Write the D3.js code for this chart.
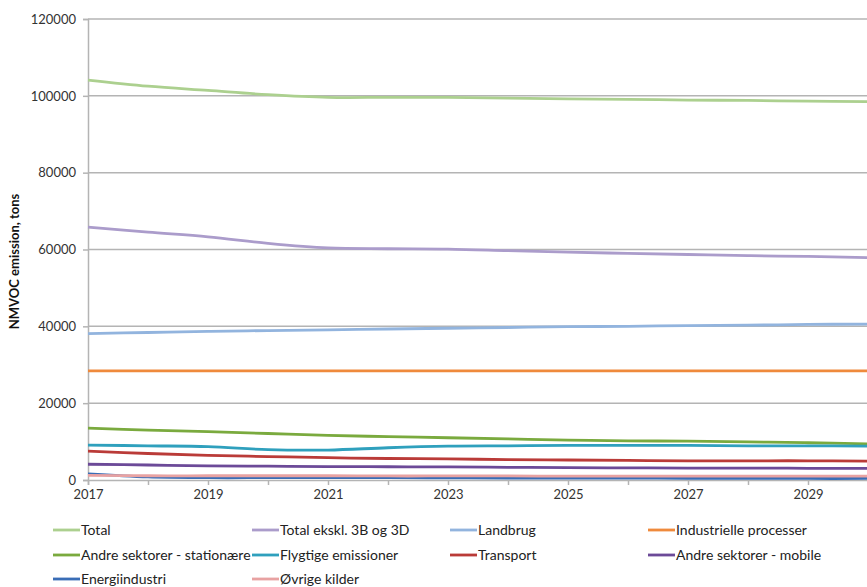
<!DOCTYPE html>
<html>
<head>
<meta charset="utf-8">
<script src="https://cdn.jsdelivr.net/npm/d3@7"></script>
<style>
  html, body { margin: 0; padding: 0; background: #fff; }
  svg { display: block; }
  text { font-family: Lato, "Open Sans", sans-serif; }
</style>
</head>
<body>
<svg id="chart" width="867" height="587"></svg>
<script>
// Projected NMVOC emissions by source, tons
const years = [2017, 2018, 2019, 2020, 2021, 2022, 2023, 2024, 2025, 2026, 2027, 2028, 2029, 2030];
const yTicks = [0, 20000, 40000, 60000, 80000, 100000, 120000];
const xTickLabels = [2017, 2019, 2021, 2023, 2025, 2027, 2029];

const total          = [104100, 102500, 101400, 100300, 99600, 99600, 99600, 99400, 99200, 99100, 98900, 98800, 98600, 98500];
const totalEkskl     = [65800, 64500, 63300, 61600, 60400, 60200, 60100, 59700, 59300, 59000, 58700, 58400, 58200, 57900];
const landbrug       = [38100, 38400, 38700, 38900, 39100, 39300, 39500, 39700, 39900, 40000, 40200, 40300, 40500, 40600];
const industrielle   = [28400, 28400, 28400, 28400, 28400, 28400, 28400, 28400, 28400, 28400, 28400, 28400, 28400, 28400];
const andreStation   = [13500, 13000, 12600, 12100, 11600, 11300, 11000, 10700, 10400, 10200, 10100, 9900, 9700, 9400];
const flygtige       = [9100, 8900, 8700, 7900, 7800, 8400, 8800, 8900, 9000, 9000, 9000, 8900, 8900, 8800];
const transport      = [7500, 6900, 6400, 6100, 5800, 5600, 5500, 5300, 5200, 5100, 5000, 5000, 5000, 4900];
const andreMobile    = [4100, 3900, 3700, 3600, 3500, 3450, 3400, 3300, 3200, 3150, 3100, 3100, 3050, 3000];
const energi         = [1600, 800, 600, 600, 600, 600, 550, 500, 500, 500, 450, 450, 400, 400];
const oevrige        = [1200, 1100, 1100, 1100, 1100, 1050, 1050, 1050, 1000, 1000, 1000, 1000, 1000, 1000];

const seriesNames = ["Total", "Total ekskl. 3B og 3D", "Landbrug", "Industrielle processer",
  "Andre sektorer - stationære", "Flygtige emissioner", "Transport", "Andre sektorer - mobile",
  "Energiindustri", "Øvrige kilder"];
const seriesValues = [total, totalEkskl, landbrug, industrielle, andreStation, flygtige,
  transport, andreMobile, energi, oevrige];
const seriesColors = ["#acd08f", "#ab9ccb", "#92b4de", "#ef8a3c", "#7aaa3e", "#2fa0bd",
  "#ba3b38", "#6c4a98", "#3a6db6", "#e8a2a2"];

const svg = d3.select("#chart");
const plotLeft = 88, plotRight = 868, plotTop = 19, plotBottom = 480;

const x = d3.scaleLinear().domain([2017, 2030]).range([plotLeft, plotRight]);
const y = d3.scaleLinear().domain([0, 120000]).range([plotBottom, plotTop]);

// horizontal gridlines
svg.append("g")
  .selectAll("line")
  .data(yTicks.filter(d => d > 0))
  .join("line")
  .attr("x1", plotLeft).attr("x2", plotRight)
  .attr("y1", d => y(d)).attr("y2", d => y(d))
  .attr("stroke", "#b4b4b4").attr("stroke-width", 1.5);

// y axis
const yAxis = svg.append("g")
  .attr("transform", `translate(${plotLeft},0)`)
  .call(d3.axisLeft(y).tickValues(yTicks).tickSize(5).tickPadding(7).tickFormat(d3.format("d")));
yAxis.select(".domain").attr("stroke", "#b4b4b4").attr("stroke-width", 1.5);
yAxis.selectAll(".tick line").attr("stroke", "#b4b4b4").attr("stroke-width", 1.5);
yAxis.selectAll(".tick text").attr("font-size", 13).attr("fill", "#333")
  .style("font-family", "Lato, sans-serif");

// x axis
const xAxis = svg.append("g")
  .attr("transform", `translate(0,${plotBottom})`)
  .call(d3.axisBottom(x).tickValues(years).tickSize(5).tickPadding(5)
    .tickFormat(d => xTickLabels.includes(d) ? d : ""));
xAxis.select(".domain").attr("stroke", "#b4b4b4").attr("stroke-width", 1.5);
xAxis.selectAll(".tick line").attr("stroke", "#b4b4b4").attr("stroke-width", 1.5);
xAxis.selectAll(".tick text").attr("font-size", 13).attr("fill", "#333")
  .style("font-family", "Lato, sans-serif");

// y axis title
svg.append("text")
  .attr("transform", `translate(19,${(plotTop + plotBottom) / 2 + 12}) rotate(-90)`)
  .attr("text-anchor", "middle")
  .attr("font-size", 13)
  .attr("font-weight", "bold")
  .attr("fill", "#111")
  .text("NMVOC emission, tons");

// series lines
const line = d3.line()
  .x((d, i) => x(years[i]))
  .y(d => y(d))
  .curve(d3.curveCatmullRom.alpha(0.5));

svg.append("g")
  .selectAll("path")
  .data(seriesValues)
  .join("path")
  .attr("d", d => line(d))
  .attr("fill", "none")
  .attr("stroke", (d, i) => seriesColors[i])
  .attr("stroke-width", 2.8)
  .attr("stroke-linejoin", "round");

// legend
const legendCols = [53, 252, 450, 648];
const legendRows = [530, 555, 579];
const legend = svg.append("g")
  .selectAll("g")
  .data(seriesNames)
  .join("g")
  .attr("transform", (d, i) => `translate(${legendCols[i % 4]},${legendRows[Math.floor(i / 4)]})`);
legend.append("line")
  .attr("x1", 0).attr("x2", 27).attr("y1", 0).attr("y2", 0)
  .attr("stroke", (d, i) => seriesColors[i]).attr("stroke-width", 2.8);
legend.append("text")
  .attr("x", 28).attr("y", 0).attr("dy", "0.35em")
  .attr("font-size", 14).attr("fill", "#222")
  .text(d => d);
</script>
</body>
</html>
